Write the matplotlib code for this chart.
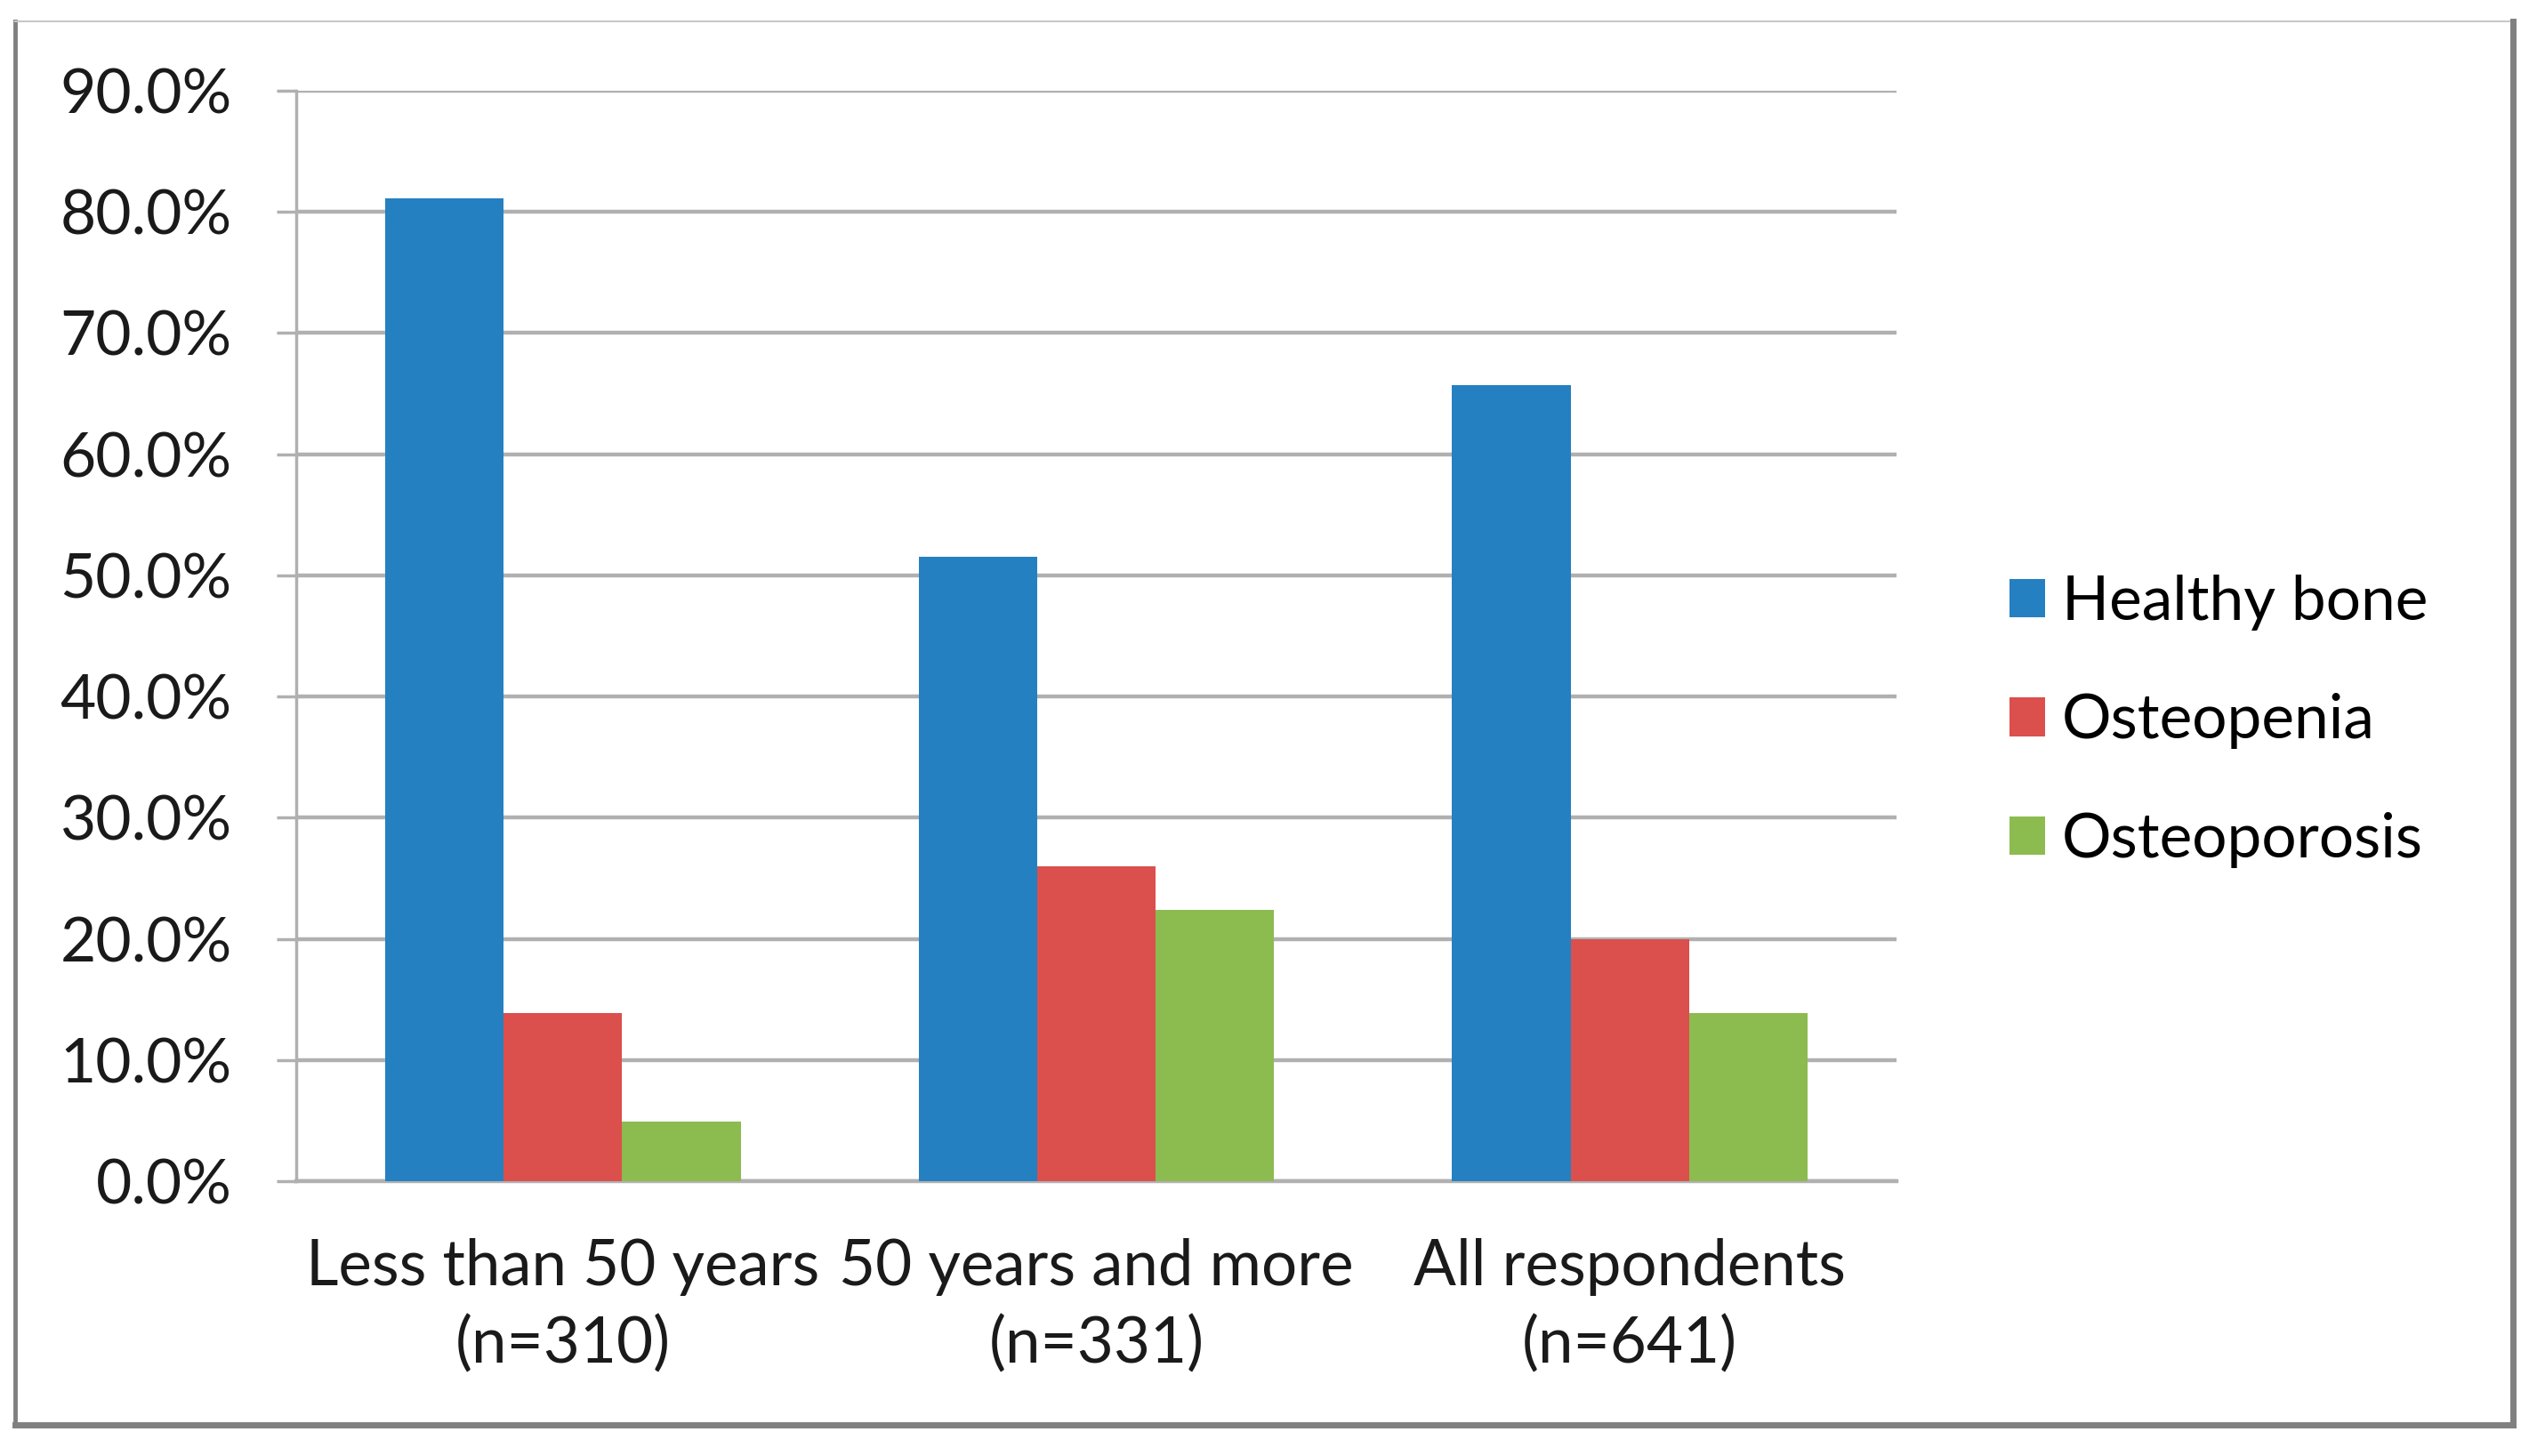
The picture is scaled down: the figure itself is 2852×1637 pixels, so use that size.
import numpy as np
import matplotlib
matplotlib.use("Agg")
from matplotlib import pyplot as plt
from matplotlib.lines import Line2D

categories = ["Less than 50 years\n(n=310)", "50 years and more\n(n=331)", "All respondents\n(n=641)"]
series_names = ["Healthy bone", "Osteopenia", "Osteoporosis"]
healthy_bone = [81.1, 51.5, 65.7]
osteopenia = [13.9, 26.0, 20.0]
osteoporosis = [4.9, 22.4, 13.9]
y_ticks = [0, 10, 20, 30, 40, 50, 60, 70, 80, 90]
colors = ["#2580c1", "#db4f4c", "#8cbb4f"]

plt.rcParams["font.family"] = ["Lato", "DejaVu Sans"]

W, H = 2852, 1637


def main(output="out.png"):
    fig = plt.figure(figsize=(W / 100, H / 100), dpi=100)
    ax = fig.add_axes([333 / W, 1 - 1328 / H, (2132 - 333) / W, (1328 - 102) / H])

    grid_color = "#b0b0b0"
    x = np.arange(len(categories))
    width = 0.222
    for i, (name, vals) in enumerate(zip(series_names, [healthy_bone, osteopenia, osteoporosis])):
        ax.bar(x + (i - 1) * width, vals, width, color=colors[i], label=name, zorder=3)

    ax.set_xlim(-0.5, len(categories) - 0.5)
    ax.set_ylim(0, 90)
    ax.set_yticks(y_ticks)
    ax.set_yticklabels([f"{t:.1f}%" for t in y_ticks])
    ax.set_xticks(x)
    ax.set_xticklabels(categories, linespacing=1.4)

    ax.yaxis.grid(True, color=grid_color, linewidth=3.2, zorder=0)
    ax.tick_params(axis="y", length=16, width=2.5, color=grid_color, pad=36, labelsize=50, labelcolor="#1a1a1a")
    ax.tick_params(axis="x", length=0, pad=46, labelsize=51, labelcolor="#1a1a1a")
    for side in ["top", "right"]:
        ax.spines[side].set_visible(False)
    ax.spines["left"].set_color(grid_color)
    ax.spines["left"].set_linewidth(2.5)
    ax.spines["bottom"].set_color(grid_color)
    ax.spines["bottom"].set_linewidth(3.2)

    fig.legend(
        loc="center left",
        bbox_to_anchor=(2259 / W, 1 - 811 / H),
        frameon=False,
        fontsize=50,
        handlelength=0.58,
        handleheight=0.58,
        handletextpad=0.27,
        labelspacing=1.02,
        borderpad=0,
        borderaxespad=0,
    )

    # outer frame like the pasted chart box
    def fx(px):
        return px / W

    def fy(py):
        return 1 - py / H

    fig.add_artist(Line2D([fx(17), fx(17)], [fy(24), fy(1602)], color="#7f7f7f", linewidth=3.5))
    fig.add_artist(Line2D([fx(17), fx(2825)], [fy(24), fy(24)], color="#c8c8c8", linewidth=1.5))
    fig.add_artist(Line2D([fx(2825), fx(2825)], [fy(24), fy(1602)], color="#808080", linewidth=5))
    fig.add_artist(Line2D([fx(17), fx(2825)], [fy(1602), fy(1602)], color="#808080", linewidth=5))

    fig.savefig(output, dpi=100, facecolor="white")


if __name__ == "__main__":
    main()
